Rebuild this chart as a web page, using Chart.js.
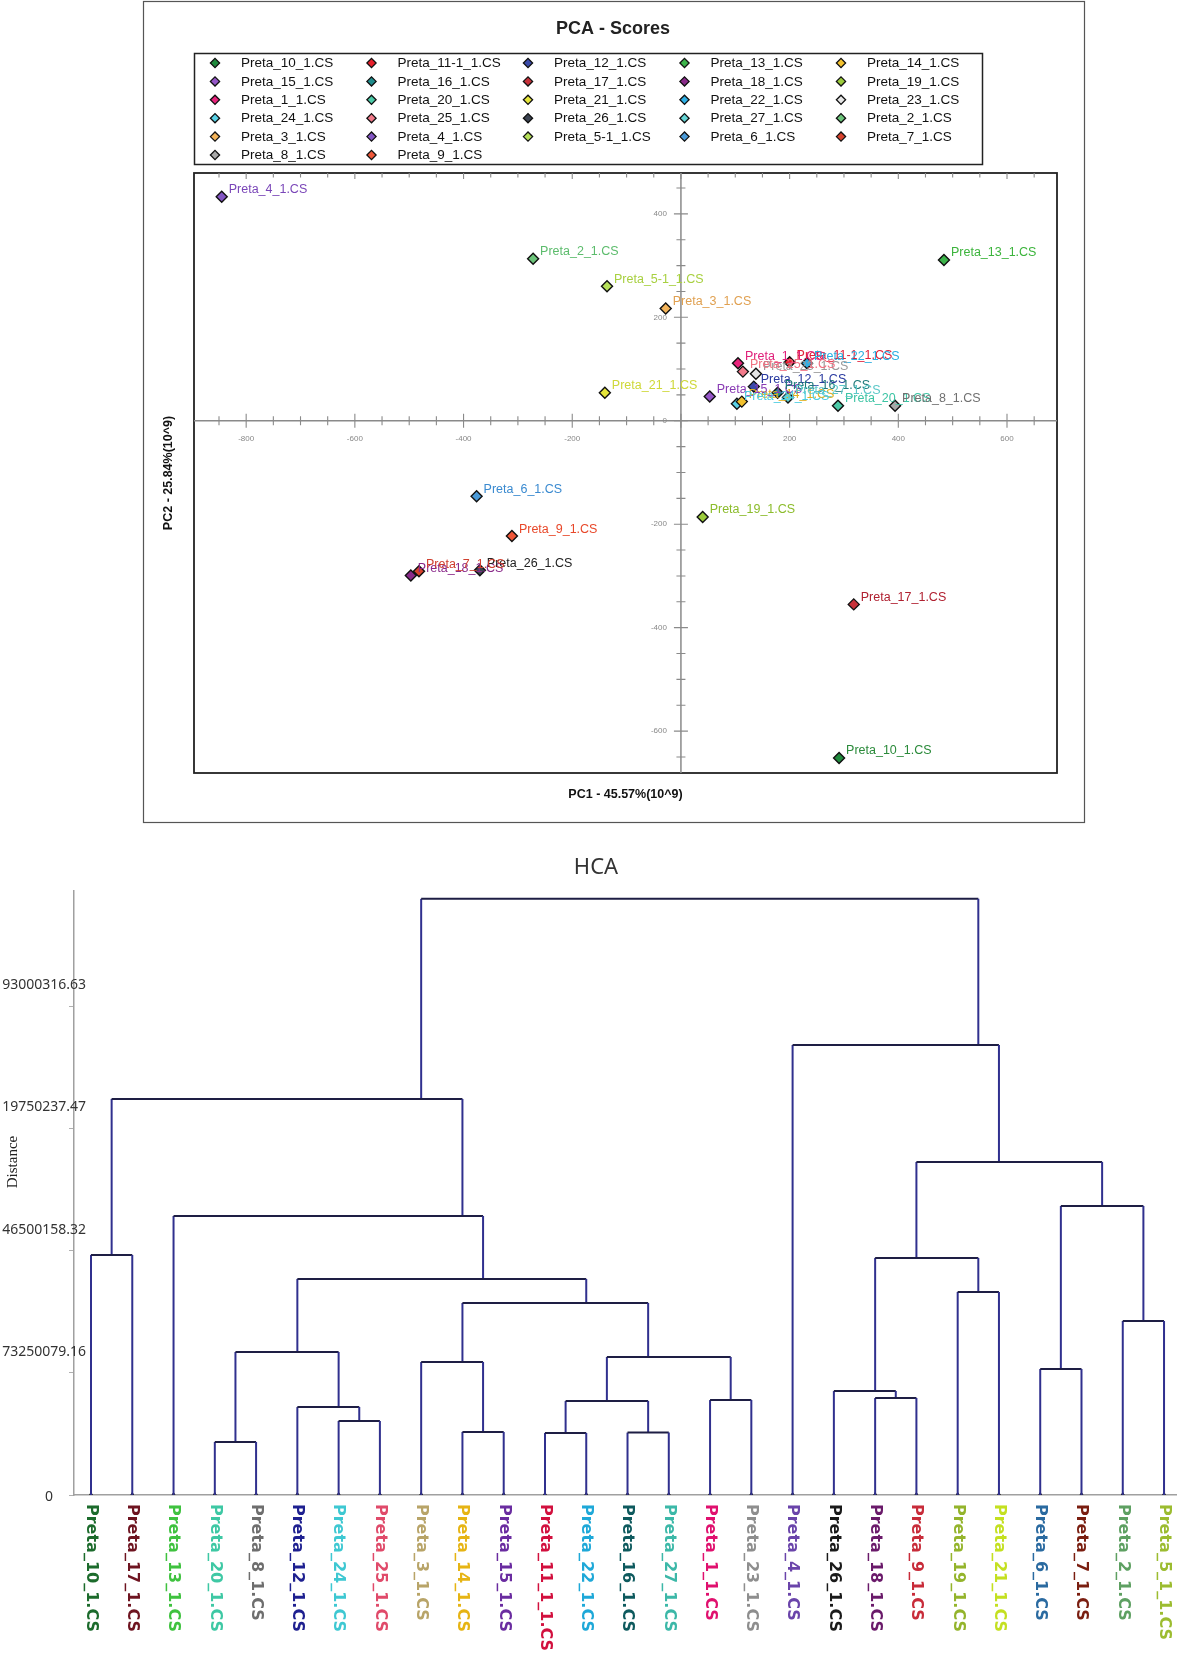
<!DOCTYPE html>
<html><head><meta charset="utf-8">
<script src="https://cdn.jsdelivr.net/npm/chart.js@4.4.1/dist/chart.umd.min.js"></script>
<style>
html,body{margin:0;padding:0;background:#fff;}
body{width:1200px;height:1661px;position:relative;overflow:hidden;}
#pcaWrap{position:absolute;left:0;top:0;width:1200px;height:830px;}
#hcaWrap{position:absolute;left:0;top:830px;width:1200px;height:831px;}
canvas{display:block;}
</style></head><body>
<div id="pcaWrap"><canvas id="pca"></canvas></div>
<div id="hcaWrap"><canvas id="hca"></canvas></div>
<script>
// ---------- PCA data ----------
const pcaTitle = 'PCA - Scores';
const pc1Title = 'PC1 - 45.57%(10^9)';
const pc2Title = 'PC2 - 25.84%(10^9)';
const pcaNames = ['Preta_10_1.CS','Preta_11-1_1.CS','Preta_12_1.CS','Preta_13_1.CS','Preta_14_1.CS',
  'Preta_15_1.CS','Preta_16_1.CS','Preta_17_1.CS','Preta_18_1.CS','Preta_19_1.CS',
  'Preta_1_1.CS','Preta_20_1.CS','Preta_21_1.CS','Preta_22_1.CS','Preta_23_1.CS',
  'Preta_24_1.CS','Preta_25_1.CS','Preta_26_1.CS','Preta_27_1.CS','Preta_2_1.CS',
  'Preta_3_1.CS','Preta_4_1.CS','Preta_5-1_1.CS','Preta_6_1.CS','Preta_7_1.CS',
  'Preta_8_1.CS','Preta_9_1.CS'];
const pc1 = [291,200,134,484,112, 53,178,318,-497,40, 105,289,-140,232,138, 103,114,-370,197,-272, -28,-845,-136,-376,-482, 394,-311];
const pc2 = [-652,113,66,311,37, 47,54,-355,-299,-186, 111,29,54,111,91, 33,95,-289,45,313, 217,433,260,-146,-291, 29,-223];
const pcaFill = ['#1f8a3c','#e8202c','#3a4aa8','#3cb44a','#f2c12e',
  '#9656c8','#1f8c8c','#c8323a','#8a2a8a','#9ccc3c',
  '#e8247c','#4ccaa8','#e6e63c','#2eb0e6','#e6e6e6',
  '#5ad2e6','#f27a8a','#3c4452','#66d6d6','#6cc47a',
  '#f4b45a','#8456c4','#b6e05a','#4a9ad8','#d8432e',
  '#a8a8a8','#f0583a'];
const pcaLabelColors = ['#2a8a3a','#e0203a','#2a3aa0','#3cb43c','#e0b020',
  '#8a3cb4','#1f7a7a','#b02030','#8a2a8a','#8cbc2c',
  '#e0207a','#3cc4a4','#cfd83a','#2aaee0','#9a9a9a',
  '#4ccce0','#f07080','#222222','#5cc8c8','#5cbc6c',
  '#e0a050','#7a46b8','#a8d040','#3a8ad0','#d04030',
  '#707070','#e8482a'];
const pcaXTicks = [-800,-600,-400,-200,0,200,400,600];
const pcaYTicks = [-600,-400,-200,0,200,400];

// ---------- HCA data ----------
const hcaTitle = 'HCA';
const hcaAxisTitle = 'Distance';
const leafNames = ['Preta_10_1.CS','Preta_17_1.CS','Preta_13_1.CS','Preta_20_1.CS','Preta_8_1.CS',
  'Preta_12_1.CS','Preta_24_1.CS','Preta_25_1.CS','Preta_3_1.CS','Preta_14_1.CS',
  'Preta_15_1.CS','Preta_11_1_1.CS','Preta_22_1.CS','Preta_16_1.CS','Preta_27_1.CS',
  'Preta_1_1.CS','Preta_23_1.CS','Preta_4_1.CS','Preta_26_1.CS','Preta_18_1.CS',
  'Preta_9_1.CS','Preta_19_1.CS','Preta_21_1.CS','Preta_6_1.CS','Preta_7_1.CS',
  'Preta_2_1.CS','Preta_5_1_1.CS'];
const leafColors = ['#1c6b2c','#6e1420','#3fc23f','#3ec8a4','#6e6e6e',
  '#1e2090','#3ec8d2','#e04a6a','#b8a468','#e6b414',
  '#6a2ca0','#d2103e','#1ea8d8','#0e5a5e','#3cb8a8',
  '#e0106e','#8e8e8e','#6a44aa','#1a1a1a','#6a1a6a',
  '#c82c3a','#94b42c','#c4e020','#2a6aa0','#7a1e10',
  '#5ea062','#9cbc30'];
// merges: node ids < 27 are leaves, merge k creates node 27+k
const mergeA = [0,3,6,5,28,9,8,11,13,34,15,36,33,31,2,27,19,18,21,44,23,25,47,46,17,42];
const mergeB = [1,4,7,29,30,10,32,12,14,35,16,37,38,39,40,41,20,43,22,45,24,26,48,49,50,51];
const mergeH = [143900000,31800000,44400000,52700000,85700000,37800000,79700000,37200000,37400000,56300000,
  56900000,82700000,115100000,129500000,167200000,237400000,58100000,62300000,121700000,142100000,
  75500000,104300000,173200000,199600000,269700000,357300000];
const distTickValues = [0,73250079.16,146500158.32,219750237.47,293000316.63];
const distTickLabels = ['0','73250079.16','46500158.32','19750237.47','93000316.63'];

// ---------- PCA chart ----------
function diamond(ctx, cx, cy, r){
  ctx.beginPath();
  ctx.moveTo(cx - r, cy); ctx.lineTo(cx, cy - r); ctx.lineTo(cx + r, cy); ctx.lineTo(cx, cy + r);
  ctx.closePath();
}
const pcaDecor = {
  id: 'pcaDecor',
  beforeDatasetsDraw(chart){
    const {ctx, chartArea: a, scales: {x, y}} = chart;
    ctx.save();
    // outer frame
    ctx.strokeStyle = '#555'; ctx.lineWidth = 1.2;
    ctx.strokeRect(143.5, 1.5, 941, 821);
    // title
    ctx.fillStyle = '#222'; ctx.font = 'bold 18px "Liberation Sans", Arial, sans-serif';
    ctx.textAlign = 'center'; ctx.textBaseline = 'middle';
    ctx.fillText(pcaTitle, 613, 29);
    // legend
    ctx.strokeStyle = '#222'; ctx.lineWidth = 1.5;
    ctx.strokeRect(194.5, 53.5, 788, 111);
    ctx.font = '13.5px "Liberation Sans", Arial, sans-serif';
    ctx.textAlign = 'left';
    chart.data.datasets.forEach((ds, i) => {
      const col = i % 5, row = Math.floor(i / 5);
      const cx = 215 + col * 156.5, cy = 63 + row * 18.4;
      diamond(ctx, cx, cy, 4.6);
      ctx.fillStyle = ds.backgroundColor; ctx.fill();
      ctx.lineWidth = 1.3; ctx.strokeStyle = '#111'; ctx.stroke();
      ctx.fillStyle = '#111';
      ctx.fillText(ds.label, cx + 26, cy + 0.5);
    });
    // plot box
    ctx.strokeStyle = '#222'; ctx.lineWidth = 1.8;
    ctx.strokeRect(a.left, a.top, a.right - a.left, a.bottom - a.top);
    // zero axes
    const x0 = x.getPixelForValue(0), y0 = y.getPixelForValue(0);
    ctx.strokeStyle = '#8a8a8a'; ctx.lineWidth = 1.5;
    ctx.beginPath();
    ctx.moveTo(a.left, y0); ctx.lineTo(a.right, y0);
    ctx.moveTo(x0, a.top); ctx.lineTo(x0, a.bottom);
    ctx.stroke();
    // ticks
    ctx.lineWidth = 1.1;
    ctx.beginPath();
    for (let v = Math.ceil(x.min / 50) * 50; v <= x.max; v += 50) {
      const px = x.getPixelForValue(v);
      const major = pcaXTicks.includes(v);
      const l = major ? 7 : 4.5;
      ctx.moveTo(px, y0 - l); ctx.lineTo(px, y0 + l);
      ctx.moveTo(px, a.top); ctx.lineTo(px, a.top + (major ? 6 : 4.5));
    }
    for (let v = Math.ceil(y.min / 50) * 50; v <= y.max; v += 50) {
      const py = y.getPixelForValue(v);
      const l = pcaYTicks.includes(v) ? 7 : 4.5;
      ctx.moveTo(x0 - l, py); ctx.lineTo(x0 + l, py);
    }
    ctx.strokeStyle = '#8a8a8a'; ctx.stroke();
    // tick labels
    ctx.fillStyle = '#888'; ctx.font = '8px "Liberation Sans", Arial, sans-serif';
    ctx.textAlign = 'center'; ctx.textBaseline = 'middle';
    pcaXTicks.forEach(v => { if (v !== 0) ctx.fillText(String(v), x.getPixelForValue(v), y0 + 18); });
    ctx.textAlign = 'right';
    pcaYTicks.forEach(v => { ctx.fillText(String(v), x0 - 14, y.getPixelForValue(v)); });
    // axis titles
    ctx.fillStyle = '#111'; ctx.font = 'bold 12.5px "Liberation Sans", Arial, sans-serif';
    ctx.textAlign = 'center';
    ctx.fillText(pc1Title, (a.left + a.right) / 2, 795);
    ctx.save();
    ctx.translate(169, (a.top + a.bottom) / 2);
    ctx.rotate(-Math.PI / 2);
    ctx.fillText(pc2Title, 0, 0);
    ctx.restore();
    ctx.restore();
  },
  afterDatasetsDraw(chart){
    const {ctx} = chart;
    ctx.save();
    ctx.font = '12.5px "Liberation Sans", Arial, sans-serif';
    ctx.textAlign = 'left'; ctx.textBaseline = 'middle';
    chart.data.datasets.forEach((ds, i) => {
      const pt = chart.getDatasetMeta(i).data[0];
      ctx.fillStyle = pcaLabelColors[i];
      ctx.fillText(ds.label, pt.x + 7, pt.y - 7);
    });
    ctx.restore();
  }
};

new Chart(document.getElementById('pca'), {
  type: 'scatter',
  data: {
    datasets: pcaNames.map((n, i) => ({
      label: n,
      data: [{x: pc1[i], y: pc2[i]}],
      pointStyle: 'rectRot', pointRadius: 5.5, pointHoverRadius: 5.5,
      backgroundColor: pcaFill[i], borderColor: '#111', borderWidth: 1.4
    }))
  },
  options: {
    responsive: true, maintainAspectRatio: false, animation: false,
    layout: {padding: {left: 194, top: 173, right: 143, bottom: 57}},
    scales: {
      x: {type: 'linear', min: -896, max: 692, display: false},
      y: {type: 'linear', min: -681, max: 479, display: false}
    },
    plugins: {legend: {display: false}, tooltip: {enabled: false}}
  },
  plugins: [pcaDecor]
});

// ---------- HCA chart ----------
const nodeX = leafNames.map((_, i) => i);
const nodeN = leafNames.map(() => 1);
const nodeH = leafNames.map(() => 0);
const vCol = '#30308e', hCol = '#1e1e44';
const hcaDatasets = [];
mergeA.forEach((a, k) => {
  const b = mergeB[k], h = mergeH[k];
  const n = nodeN[a] + nodeN[b];
  hcaDatasets.push({
    type: 'line',
    data: [{x: nodeX[a], y: nodeH[a]}, {x: nodeX[a], y: h}, {x: nodeX[b], y: h}, {x: nodeX[b], y: nodeH[b]}],
    borderWidth: 2, pointRadius: 0, fill: false, tension: 0, borderColor: vCol,
    segment: {borderColor: c => (c.p0.parsed.x === c.p1.parsed.x ? vCol : hCol)}
  });
  nodeX.push((nodeX[a] * nodeN[a] + nodeX[b] * nodeN[b]) / n);
  nodeN.push(n);
  nodeH.push(h);
});
hcaDatasets.push({
  type: 'scatter',
  data: leafNames.map((_, i) => ({x: i, y: 0})),
  pointStyle: 'triangle', pointRadius: 2.6, backgroundColor: '#222', borderColor: '#222', borderWidth: 1
});

const hcaDecor = {
  id: 'hcaDecor',
  afterDraw(chart){
    const {ctx, chartArea: a, scales: {x, y}} = chart;
    ctx.save();
    ctx.fillStyle = '#333'; ctx.font = '22px "Noto Sans", "Open Sans", sans-serif';
    ctx.textAlign = 'center'; ctx.textBaseline = 'middle';
    ctx.fillText(hcaTitle, 596, 38);
    // axis title
    ctx.save();
    ctx.translate(13, 332); ctx.rotate(-Math.PI / 2);
    ctx.fillStyle = '#222'; ctx.font = '15px "Liberation Serif", "DejaVu Serif", serif';
    ctx.fillText(hcaAxisTitle, 0, 0);
    ctx.restore();
    // y tick labels
    ctx.font = '14px "Noto Sans", "Open Sans", sans-serif';
    ctx.fillStyle = '#333'; ctx.textAlign = 'right';
    distTickValues.forEach((v, i) => {
      const py = y.getPixelForValue(v);
      if (v === 0) ctx.fillText(distTickLabels[i], a.left - 21, py + 2);
      else ctx.fillText(distTickLabels[i], a.left + 12, py - 21);
    });
    // leaf labels
    ctx.font = 'bold 16px "DejaVu Sans", sans-serif';
    ctx.textAlign = 'left';
    leafNames.forEach((n, i) => {
      ctx.save();
      ctx.translate(x.getPixelForValue(i), a.bottom + 9);
      ctx.rotate(Math.PI / 2);
      ctx.fillStyle = leafColors[i];
      ctx.fillText(n, 0, 0);
      ctx.restore();
    });
    ctx.restore();
  }
};

new Chart(document.getElementById('hca'), {
  type: 'line',
  data: {datasets: hcaDatasets},
  options: {
    responsive: true, maintainAspectRatio: false, animation: false,
    layout: {padding: {top: 61, right: 24, left: 0, bottom: 0}},
    scales: {
      x: {type: 'linear', min: -0.412, max: 26.29,
        grid: {display: true, drawOnChartArea: false, drawTicks: false},
        border: {display: true, color: '#a0a0a0', width: 1.5},
        ticks: {display: false},
        afterFit: s => { s.height = 166; }},
      y: {type: 'linear', min: 0, max: 362000000,
        afterBuildTicks: s => { s.ticks = distTickValues.map(v => ({value: v})); },
        grid: {drawOnChartArea: false, drawTicks: true, tickLength: 5, color: '#b0b0b0'},
        border: {display: true, color: '#a0a0a0', width: 1.5},
        ticks: {display: false},
        afterFit: s => { s.width = 74; }}
    },
    plugins: {legend: {display: false}, tooltip: {enabled: false}}
  },
  plugins: [hcaDecor]
});
</script></body></html>
